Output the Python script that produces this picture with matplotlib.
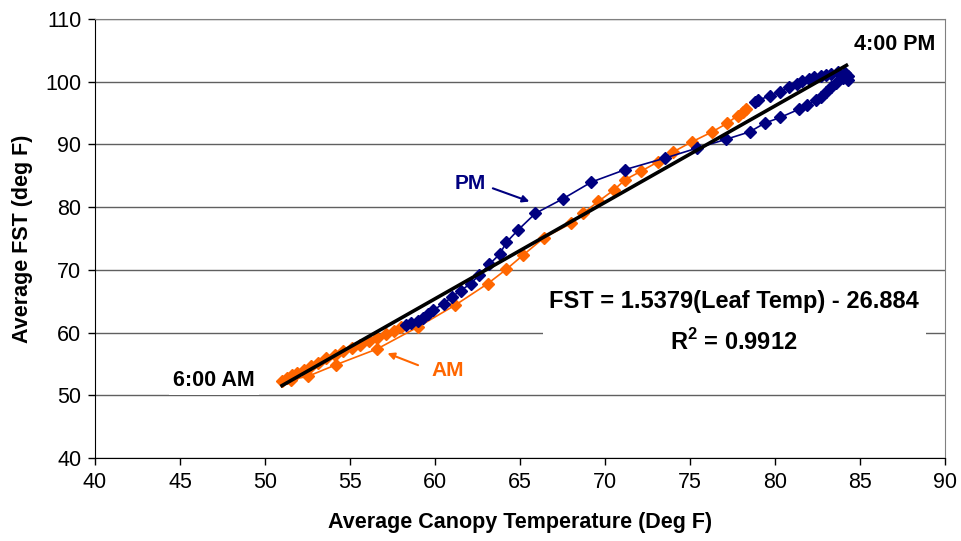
import matplotlib
matplotlib.use("Agg")
import matplotlib.pyplot as plt
import numpy as np

plt.rcParams['font.family'] = ['Liberation Sans', 'DejaVu Sans']
plt.rcParams['mathtext.fontset'] = 'custom'
plt.rcParams['mathtext.bf'] = 'Liberation Sans:bold'
plt.rcParams['mathtext.rm'] = 'Liberation Sans'

# AM series (orange) - in time order
am_x = [58.0, 57.6, 57.1, 56.6, 56.1, 55.6, 55.1, 54.6, 54.1, 53.6, 53.1, 52.7,
        52.3, 51.9, 51.6, 51.3, 51.0,
        51.5, 52.5, 54.2, 56.6, 59.0, 61.2, 63.1, 64.2, 65.2, 66.4, 68.0, 68.7,
        69.6, 70.5, 71.2, 72.1, 73.1, 74.0, 75.1, 76.3, 77.2, 77.8, 78.1, 78.3]
am_y = [60.9, 60.3, 59.7, 59.1, 58.6, 58.0, 57.5, 57.0, 56.4, 55.9, 55.2, 54.7,
        54.1, 53.6, 53.2, 52.8, 52.3,
        52.5, 53.0, 54.9, 57.4, 60.9, 64.4, 67.8, 70.1, 72.4, 75.1, 77.4, 79.0,
        80.9, 82.7, 84.4, 85.7, 87.2, 88.8, 90.4, 92.0, 93.4, 94.6, 95.2, 95.6]

# PM series (navy)
pm_x = [78.8, 79.0, 79.7, 80.3, 80.8, 81.3, 81.6, 82.0, 82.3, 82.7, 83.0, 83.3,
        83.7, 84.1, 84.3, 84.3, 84.0, 83.6, 83.3, 83.0, 82.7, 82.4, 81.9, 81.4,
        80.3, 79.4, 78.5, 77.1, 75.4, 73.5, 71.2, 69.2, 67.5, 65.9, 64.9, 64.2,
        63.8, 63.2, 62.6, 62.1, 61.5, 61.0, 60.5, 59.9, 59.6, 59.3, 59.0, 58.6, 58.3]
pm_y = [96.8, 97.1, 97.7, 98.4, 99.1, 99.7, 100.1, 100.5, 100.8, 100.9, 101.1, 101.3,
        101.6, 101.4, 100.9, 100.3, 100.6, 99.8, 99.2, 98.4, 97.6, 97.1, 96.3, 95.6,
        94.3, 93.4, 92.0, 90.8, 89.4, 87.8, 86.0, 84.0, 81.3, 79.0, 76.4, 74.4,
        72.5, 70.9, 69.2, 67.8, 66.7, 65.7, 64.6, 63.6, 62.9, 62.4, 61.9, 61.5, 61.2]

# regression line
slope = 1.5379
intercept = -26.884
fit_x = np.array([51.0, 84.2])

fig = plt.figure(figsize=(9.61, 5.41), dpi=100)
ax = fig.add_axes([0.0989, 0.1534, 0.8845, 0.8115])

ax.plot(am_x, am_y, color='#FF6600', marker='D', markersize=6, lw=1.2, zorder=3)
ax.plot(pm_x, pm_y, color='#000080', marker='D', markersize=6, lw=1.2, zorder=3)
ax.plot(fit_x, slope * fit_x + intercept, color='black', lw=2.6, zorder=4)

ax.set_xlim(40, 90)
ax.set_ylim(40, 110)
ax.set_xticks(np.arange(40, 91, 5))
ax.set_yticks(np.arange(40, 111, 10))
ax.tick_params(labelsize=15.5, direction='out', length=5, width=1, pad=5)
ax.yaxis.grid(True, color='#606060', lw=1)
ax.set_axisbelow(True)
for s in ['top', 'right']:
    ax.spines[s].set_color('#808080')
for s in ['left', 'bottom']:
    ax.spines[s].set_color('black')

ax.set_xlabel('Average Canopy Temperature (Deg F)', fontsize=15.5, fontweight='bold', labelpad=14)
ax.set_ylabel('Average FST (deg F)', fontsize=15.5, fontweight='bold', labelpad=9)

# labels
ax.text(87.05, 105.9, '4:00 PM', fontsize=15.5, fontweight='bold', ha='center', va='center')
ax.text(47.0, 52.4, '6:00 AM', fontsize=15.5, fontweight='bold', ha='center', va='center',
        bbox=dict(facecolor='white', edgecolor='none', pad=3), zorder=5)
ax.text(77.6, 61.6, 'FST = 1.5379(Leaf Temp) - 26.884\nR$^\\mathbf{2}$ = 0.9912', fontsize=17,
        fontweight='bold', ha='center', va='center', multialignment='center', linespacing=1.75,
        bbox=dict(facecolor='white', edgecolor='none', pad=5), zorder=5)

ax.text(62.1, 83.8, 'PM', fontsize=15, fontweight='bold', color='#000080', ha='center', va='center')
ax.annotate('', xy=(65.55, 80.9), xytext=(63.4, 83.0),
            arrowprops=dict(arrowstyle='-|>', color='#000080', lw=1.5, shrinkA=0, shrinkB=0))
ax.text(60.75, 54.0, 'AM', fontsize=15, fontweight='bold', color='#FF6600', ha='center', va='center')
ax.annotate('', xy=(57.2, 56.7), xytext=(59.0, 54.8),
            arrowprops=dict(arrowstyle='-|>', color='#FF6600', lw=1.5, shrinkA=0, shrinkB=0))

fig.savefig('out.png', dpi=100)
